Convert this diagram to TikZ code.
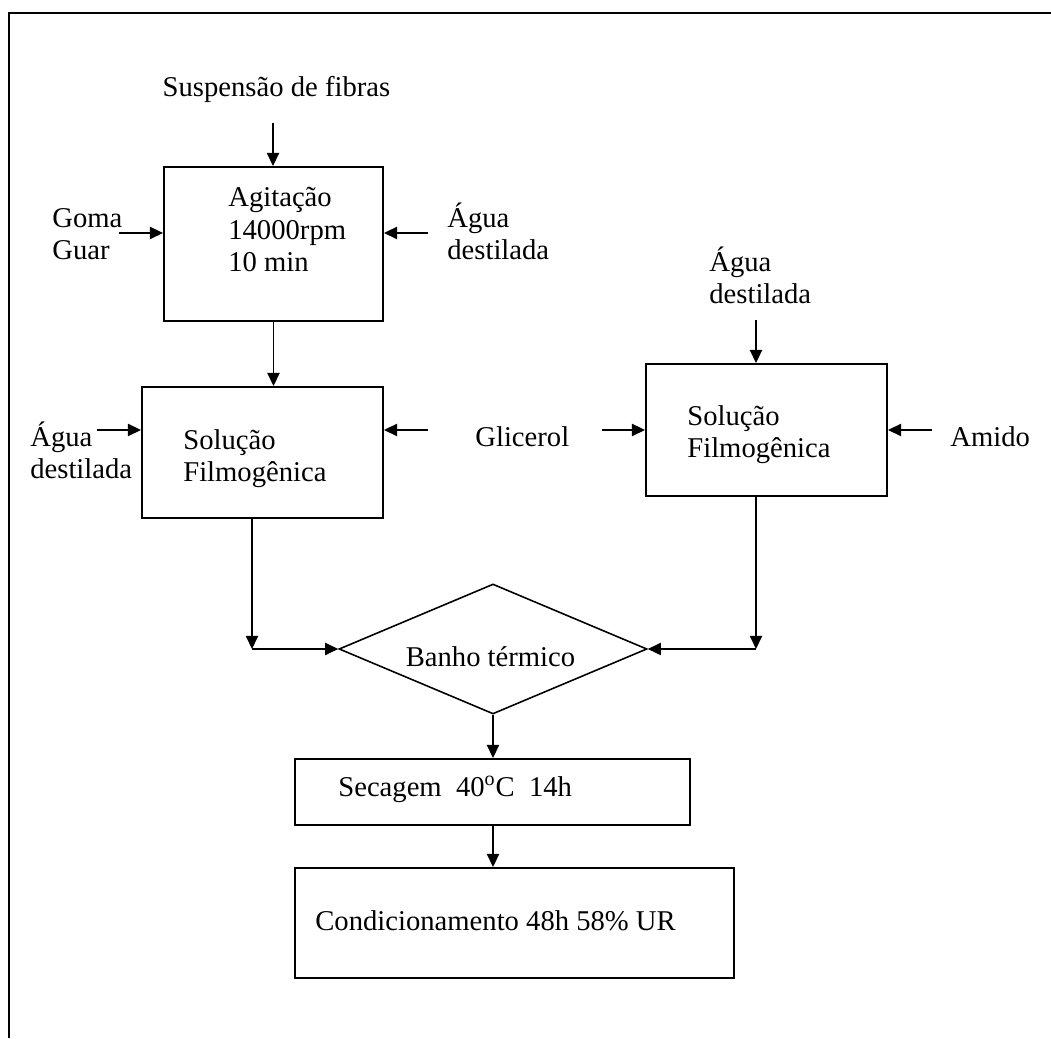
\documentclass[tikz,border=0pt]{standalone}
\usepackage{fontspec}
\setmainfont{Liberation Serif}
\usetikzlibrary{arrows.meta,shapes.geometric}

\begin{document}
\begin{tikzpicture}[
    box/.style={draw, line width=1.1pt, inner sep=0pt},
    txt/.style={font=\fontsize{16.3pt}{18.5pt}\selectfont, inner sep=0pt, align=left, anchor=base west},
    arr/.style={-{Triangle[length=7.5pt,width=7pt]}, line width=0.8pt}
]
    \useasboundingbox (0,0) rectangle (21.02,20.76);

    % Frame
    \draw[line width=1.1pt] (0.18,0) -- (0.18,20.506) -- (21.02,20.506);

    % Agitation step
    \node[txt, anchor=base] (susp) at (5.53,18.82) {Suspensão de fibras};
    \node[box, minimum width=4.38cm, minimum height=3.08cm] (agit) at (5.47,15.88) {};
    \node[txt] (agittxt) at (4.56,15.32) {Agitação\\14000rpm\\10 min};
    \node[txt] (goma) at (1.04,15.56) {Goma\\Guar};
    \node[txt] (agua1) at (8.94,15.56) {Água\\destilada};
    \coordinate (suspin) at (5.46,18.3);
    \coordinate (gomain) at (2.38,16.1);
    \coordinate (agua1in) at (8.56,16.1);
    \draw[arr] (suspin) -- (suspin |- agit.north);
    \draw[arr] (gomain) -- (gomain -| agit.west);
    \draw[arr] (agua1in) -- (agua1in -| agit.east);

    % Left film solution
    \node[box, minimum width=4.82cm, minimum height=2.62cm] (sol1) at (5.25,11.71) {};
    \node[txt] (sol1txt) at (3.66,11.12) {Solução\\Filmogênica};
    \node[txt] (agua2) at (0.6,11.18) {Água\\destilada};
    \coordinate (agua2in) at (1.94,12.16);
    \coordinate (glic1in) at (8.56,12.16);
    \draw[arr] (agit.south) -- (agit.south |- sol1.north);
    \draw[arr] (agua2in) -- (agua2in -| sol1.west);
    \draw[arr] (glic1in) -- (glic1in -| sol1.east);

    % Right film solution
    \node[txt] (glic) at (9.5,11.82) {Glicerol};
    \node[box, minimum width=4.82cm, minimum height=2.64cm] (sol2) at (15.33,12.16) {};
    \node[txt] (sol2txt) at (13.74,11.6) {Solução\\Filmogênica};
    \node[txt] (amido) at (19.0,11.82) {Amido};
    \node[txt] (agua3) at (14.18,14.68) {Água\\destilada};
    \coordinate (glic2in) at (12.04,12.16);
    \coordinate (amidoin) at (18.64,12.16);
    \coordinate (agua3in) at (15.12,14.36);
    \draw[arr] (glic2in) -- (sol2.west);
    \draw[arr] (amidoin) -- (sol2.east);
    \draw[arr] (agua3in) -- (agua3in |- sol2.north);

    % Thermal bath
    \node[draw, diamond, line width=0.9pt, inner sep=0pt, minimum width=6.16cm, minimum height=2.6cm] (banho) at (9.86,7.78) {};
    \node[txt, anchor=base] (banhotxt) at (9.81,7.42) {Banho térmico};
    \coordinate (jl) at (5.04,7.78);
    \coordinate (jr) at (15.12,7.78);
    \draw[arr] (jl |- sol1.south) -- (jl);
    \draw[arr] (jl) -- (banho.west);
    \draw[arr] (jr |- sol2.south) -- (jr);
    \draw[arr] (jr) -- (banho.east);

    % Drying and conditioning
    \node[box, minimum width=7.9cm, minimum height=1.32cm] (sec) at (9.85,4.92) {};
    \node[txt] (sectxt) at (6.76,4.82) {Secagem\ \ 40\textsuperscript{o}C\ \ 14h};
    \node[box, minimum width=8.78cm, minimum height=2.2cm] (cond) at (10.29,2.3) {};
    \node[txt] (condtxt) at (6.3,2.14) {Condicionamento 48h 58\% UR};
    \draw[arr] (banho.south) -- (banho.south |- sec.north);
    \draw[arr] (banho.south |- sec.south) -- (banho.south |- cond.north);
\end{tikzpicture}
\end{document}
